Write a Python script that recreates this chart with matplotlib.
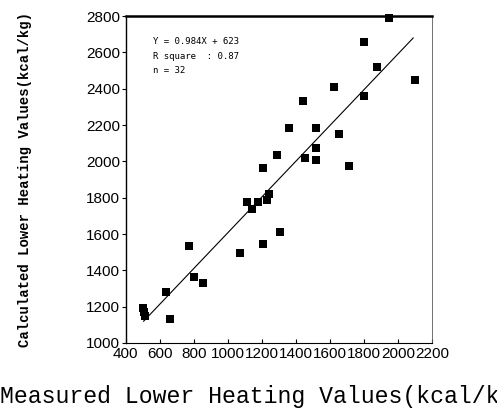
"""
Measured vs calculated lower heating values, with the linear fit.
"""

import matplotlib
matplotlib.use("Agg")
import matplotlib.pyplot as plt
import numpy as np

# Measured (x) and calculated (y) lower heating values, kcal/kg
measured = [1945, 1800, 1875, 2100, 1625, 1800, 1445, 1360, 1520, 1655,
            1520, 1290, 1455, 1520, 1715, 1205, 1245, 1110, 1175, 1140,
            1232, 1305, 770, 1205, 1070, 800, 855, 637, 500, 505,
            512, 660]
calculated = [2790, 2660, 2520, 2450, 2410, 2360, 2330, 2185, 2185, 2150,
              2075, 2035, 2020, 2010, 1975, 1965, 1820, 1775, 1775, 1740,
              1790, 1610, 1535, 1545, 1495, 1365, 1330, 1280, 1195, 1170,
              1150, 1130]

# Fit reported on the chart
slope = 0.984
intercept = 623
r_square = 0.87
fit_range = [505, 2090]

x_ticks = list(range(400, 2201, 200))
y_ticks = list(range(1000, 2801, 200))

fig = plt.figure(figsize=(4.97, 4.13), dpi=100)
ax = fig.add_axes([0.253, 0.1695, 0.616, 0.7915])

ax.scatter(measured, calculated, marker="s", s=26, color="black",
           linewidths=0, zorder=3, clip_on=False)

fit_x = np.array(fit_range)
ax.plot(fit_x, slope * fit_x + intercept, color="black", lw=0.8)

ax.set_xlim(400, 2200)
ax.set_ylim(1000, 2800)
ax.set_xticks(x_ticks)
ax.set_yticks(y_ticks)
ax.tick_params(axis="both", labelsize=11, length=3, width=0.8, pad=1)
ax.tick_params(axis="x", direction="in", pad=3)
for lbl in ax.get_xticklabels() + ax.get_yticklabels():
    lbl.set_family("Liberation Sans")

ax.spines["top"].set_linewidth(1.8)
ax.spines["left"].set_linewidth(1.0)
ax.spines["bottom"].set_linewidth(0.8)
ax.spines["bottom"].set_linestyle((0, (6, 1)))
ax.spines["right"].set_linewidth(0.6)
ax.spines["right"].set_color("0.35")
ax.spines["right"].set_linestyle((0, (8, 1)))

stats = f"Y = {slope}X + {intercept}\nR square  : {r_square}\nn = {len(measured)}"
ax.text(0.09, 0.935, stats, transform=ax.transAxes, ha="left", va="top",
        fontsize=6.5, family="DejaVu Sans Mono", linespacing=1.75)

fig.text(0.05, 0.565, "Calculated Lower Heating Values(kcal/kg)", rotation=90,
         ha="center", va="center", fontsize=10, family="Liberation Mono",
         fontweight="bold")
# the reference crops this label at the right edge
fig.text(0.0, 0.04, "Measured Lower Heating Values(kcal/kg)", ha="left",
         va="center", fontsize=16.7, family="Liberation Mono")

fig.savefig("out.png", dpi=100)
